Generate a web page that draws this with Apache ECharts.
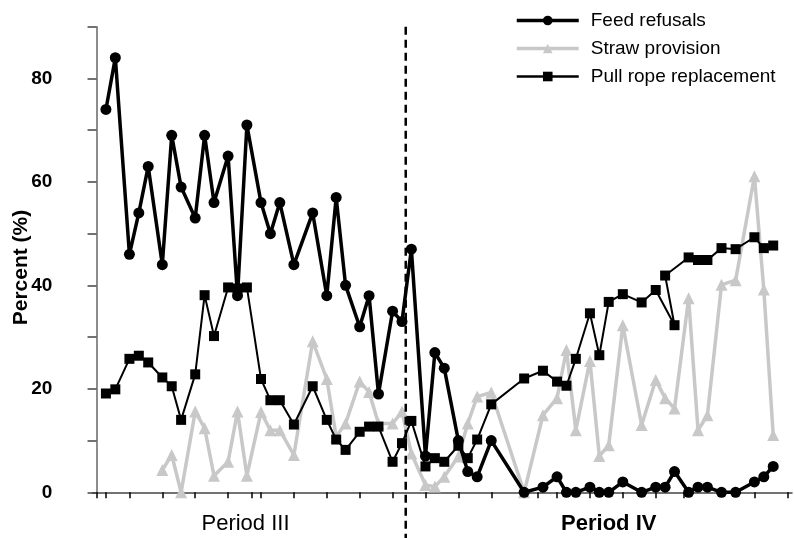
<!DOCTYPE html>
<html>
<head>
<meta charset="utf-8">
<script src="https://cdn.jsdelivr.net/npm/echarts@6/dist/echarts.min.js"></script>
<style>
html,body{margin:0;padding:0;background:#fff;}
#chart{width:794px;height:538px;}
</style>
</head>
<body>
<div id="chart"></div>
<script>
// Day of observation (x), shared by all three series
const days = [2,4,7,9,11,14,16,18,21,23,25,28,30,32,35,37,39,42,46,49,51,53,56,58,60,63,65,67,70,72,74,77,79,81,84,91,95,98,100,102,105,107,109,112,116,119,121,123,126,128,130,133,136,140,142,144];

const feedRefusals = [74,84,46,54,63,44,69,59,53,69,56,65,38,71,56,50,56,44,54,38,57,40,32,38,19,35,33,47,7,27,24,10,4,3,10,0,1,3,0,0,1,0,0,2,0,1,1,4,0,1,1,0,0,2,3,5];

const strawProvision = [null,null,null,null,null,4.3,7.2,0,15.6,12.4,3.2,5.9,15.6,3.2,15.5,12,12,7.2,29.2,21.9,10.8,13.3,21.4,19.4,13.3,13.3,15.6,7.5,1.4,1.1,3,6.9,13.3,18.5,19.3,0,14.9,18.2,27.5,12,25.4,7,9.1,32.3,13,21.7,18.2,16.2,37.5,12,14.9,40.1,41,61.1,39.2,11.1];

// Pull rope replacement (recorded order, one entry out of date order)
const pullDays = [2,4,7,9,11,14,16,18,21,23,25,28,30,32,35,37,39,42,46,49,51,53,56,58,60,63,65,67,70,72,74,77,79,81,84,91,95,98,100,102,105,107,109,112,116,119,123,121,126,128,130,133,136,140,142,144];
const pullRope = [19.1,19.9,25.8,26.4,25.1,22.2,20.5,14,22.8,38.1,30.2,39.6,39.4,39.6,21.9,17.8,17.8,13.1,20.5,14,10.2,8.2,11.7,12.7,12.7,5.9,9.5,13.8,5,6.6,5.9,9,6.6,10.2,17,22,23.5,21.4,20.6,25.8,34.6,26.5,36.8,38.3,36.7,39.1,32.3,41.9,45.4,44.9,44.9,47.2,47,49.3,47.2,47.7];

const xTicks = [0,2,7,14,21,28,33,35,42,49,56,63,70,77,84,91,94,98,105,112,119,125,140,147];
const periodBoundary = 65.8;
const periodLabels = [{text:'Period III', day:31.7, bold:false},{text:'Period IV', day:109, bold:true}];
const seriesNames = ['Feed refusals','Straw provision','Pull rope replacement'];

const pairs = (xs, ys) => xs.map((x,i) => [x, ys[i]]);
const FONT = '"Liberation Sans", Arial, sans-serif';

const chart = echarts.init(document.getElementById('chart'), null, {renderer:'canvas'});
chart.setOption({
  animation:false,
  backgroundColor:'#fff',
  grid:{left:92.3, right:2, top:26.7, bottom:45.7, containLabel:false, outerBoundsMode:'none'},
  legend:{
    orient:'vertical', left:515, top:11, padding:0,
    itemWidth:62, itemHeight:12, itemGap:9,
    data:[
      {name:seriesNames[0], lineStyle:{width:3.5}},
      {name:seriesNames[1], lineStyle:{width:3.5}},
      {name:seriesNames[2], lineStyle:{width:2.5}}
    ],
    selectedMode:false,
    textStyle:{fontFamily:FONT, fontSize:19, color:'#000', padding:[0,0,0,7]}
  },
  xAxis:{
    type:'value', min:-0.9, max:148,
    axisLine:{show:true, onZero:false, lineStyle:{color:'#444', width:1.5}},
    axisTick:{show:true, customValues:xTicks, length:6, lineStyle:{color:'#000', width:1.5}},
    axisLabel:{show:false},
    splitLine:{show:false}
  },
  yAxis:{
    type:'value', min:0, max:90, interval:10,
    name:'Percent (%)', nameLocation:'middle', nameGap:61, nameRotate:90, nameMoveOverlap:false,
    nameTextStyle:{fontFamily:FONT, fontSize:21, fontWeight:'bold', color:'#000', padding:[0,0,0,-16]},
    axisLine:{show:true, lineStyle:{color:'#666', width:1.5}},
    axisTick:{show:true, length:9, lineStyle:{color:'#444', width:1.5}},
    axisLabel:{margin:40, fontFamily:FONT, fontSize:19, fontWeight:'bold', color:'#000',
      formatter:v => (v % 20 === 0 && v < 90) ? String(v) : ''},
    splitLine:{show:false}
  },
  series:[
    {
      name:'Straw provision', type:'line', data:pairs(days, strawProvision),
      symbol:'triangle', symbolSize:12, showAllSymbol:true, connectNulls:false,
      lineStyle:{color:'#c8c8c8', width:3.5}, itemStyle:{color:'#c8c8c8'},
      emphasis:{disabled:true}, z:2
    },
    {
      name:'Pull rope replacement', type:'line', data:pairs(pullDays, pullRope),
      symbol:'rect', symbolSize:10, showAllSymbol:true,
      lineStyle:{color:'#000', width:2}, itemStyle:{color:'#000'},
      emphasis:{disabled:true}, z:3
    },
    {
      name:'Feed refusals', type:'line', data:pairs(days, feedRefusals),
      symbol:'circle', symbolSize:11, showAllSymbol:true,
      lineStyle:{color:'#000', width:3.5}, itemStyle:{color:'#000'},
      emphasis:{disabled:true}, z:4
    }
  ]
});

// Period boundary and period labels, positioned through the axis scales
const bx = chart.convertToPixel({xAxisIndex:0}, periodBoundary);
const topY = chart.convertToPixel({yAxisIndex:0}, 90);
const graphics = [{
  type:'line', shape:{x1:bx, y1:topY, x2:bx, y2:538},
  style:{stroke:'#000', lineWidth:2.5, lineDash:[8,5]}, z:10
}];
periodLabels.forEach(p => {
  graphics.push({
    type:'text', x:chart.convertToPixel({xAxisIndex:0}, p.day), y:524,
    style:{text:p.text, fontFamily:FONT, fontSize:22, fontWeight:p.bold?'bold':'normal',
      fill:'#000', align:'center', verticalAlign:'middle'}, z:10
  });
});
chart.setOption({graphic:graphics});
</script>
</body>
</html>
